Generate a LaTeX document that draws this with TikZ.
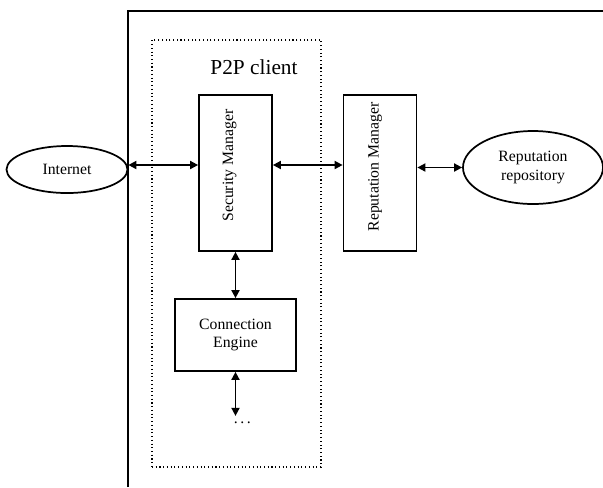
\documentclass[tikz,border=0pt]{standalone}
\usepackage{fontspec}
\setmainfont{Liberation Serif}
\usetikzlibrary{calc,shapes.geometric,arrows.meta}
\tikzstyle{manager} = [rectangle, minimum width=54.75pt, minimum height=117pt, draw=black, line width=1.3pt]
\tikzstyle{engine} = [rectangle, minimum width=90.75pt, minimum height=54pt, text centered, align=center, draw=black, line width=1.3pt]
\tikzstyle{store} = [ellipse, inner sep=0pt, text centered, align=center, draw=black, line width=1.3pt]
\tikzstyle{vtext} = [rotate=90, inner sep=0pt]
\tikzstyle{arrow} = [line width=1.3pt,<->,>={Triangle[length=6pt,width=6pt]}]

\begin{document}
\begin{tikzpicture}[x=0.75pt,y=-0.75pt,font=\fontsize{11.8}{14}\selectfont]
\useasboundingbox (0,0) rectangle (603,487);
\draw [line width=1.3pt] (128,487) -- (128,11) -- (603,11);
\node (client) [draw, dotted, line width=0.8pt, minimum width=126.75pt, minimum height=320.25pt] at (236.5,253.5) {};
\node (title) [font=\fontsize{16}{18}\selectfont] at (254,67) {P2P client};

\node (sec) [manager] at (235.5,173) {};
\node (sectext) [vtext] at ([xshift=-4.5pt,yshift=5.6pt]sec.center) {Security Manager};
\node (rep) [manager] at (380,173) {};
\node (reptext) [vtext] at ([xshift=-3.75pt,yshift=4.5pt]rep.center) {Reputation Manager};
\node (conn) [engine] at (235.5,335) {Connection\\Engine};
\node (inet) [store, minimum width=90.75pt, minimum height=35.25pt] at (67,169.5) {Internet};
\node (repo) [store, minimum width=105pt, minimum height=54.75pt] at (533,167.5) {Reputation\\repository};

\coordinate (mid) at ([yshift=6pt]sec.west);
\coordinate (more) at ([yshift=-33pt]conn.south);
\node (dots) [anchor=base west, inner sep=0pt] at ([xshift=-1.5pt,yshift=-6pt]more) {.\,.\,.};

\draw [arrow] (mid -| inet.east) -- (mid);
\draw [arrow] (mid -| sec.east) -- (mid -| rep.west);
\draw [arrow] (rep.east |- repo.west) -- (repo.west);
\draw [arrow] (sec.south) -- (sec.south |- conn.north);
\draw [arrow] (conn.south) -- (more);
\end{tikzpicture}
\end{document}
